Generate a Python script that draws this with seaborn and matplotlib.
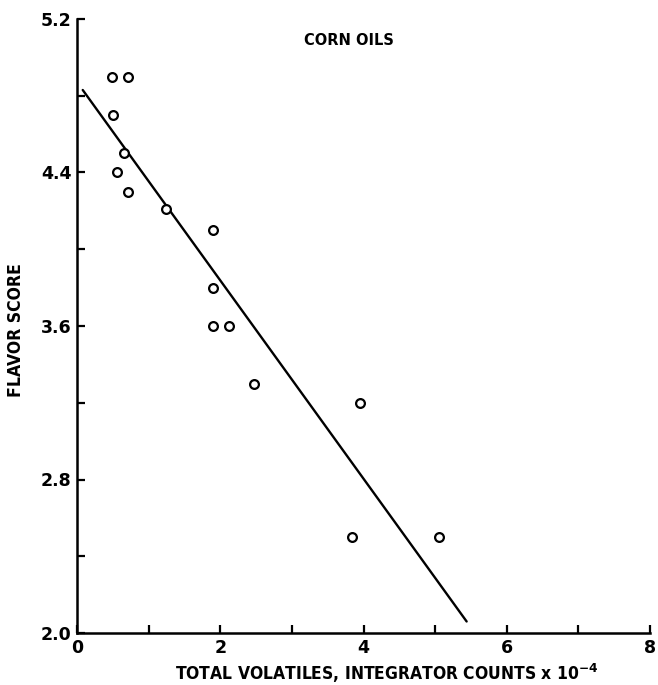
import matplotlib
matplotlib.use("Agg")
import matplotlib.pyplot as plt
import seaborn as sns
import pandas as pd
from matplotlib.ticker import MultipleLocator
from matplotlib import font_manager as fm

# Data
volatiles = [0.49, 0.71, 0.50, 0.66, 0.56, 0.71, 1.24, 1.90, 1.90, 1.90, 2.12, 2.47, 3.95, 3.84, 5.05]
flavor = [4.90, 4.90, 4.70, 4.50, 4.40, 4.30, 4.21, 4.10, 3.80, 3.60, 3.60, 3.30, 3.20, 2.50, 2.50]
fit_x = [0.08, 5.44]
fit_y = [4.83, 2.06]
x_ticks = [0, 2, 4, 6, 8]
y_ticks = [2.0, 2.8, 3.6, 4.4, 5.2]

sns.set_style("ticks")
plt.rcParams['font.family'] = ['DejaVu Sans']
plt.rcParams['text.color'] = 'black'
plt.rcParams['axes.labelcolor'] = 'black'
plt.rcParams['xtick.color'] = 'black'
plt.rcParams['ytick.color'] = 'black'

# pick a condensed face if one is installed
fonts = fm.fontManager.ttflist
names = {f.name for f in fonts}
cond_family, cond_stretch, scale = "DejaVu Sans", "normal", 0.82
if "Liberation Sans Narrow" in names:
    cond_family, cond_stretch, scale = "Liberation Sans Narrow", "normal", 1.0
elif any(f.name == "DejaVu Sans" and f.stretch == "condensed" for f in fonts):
    cond_family, cond_stretch, scale = "DejaVu Sans", "condensed", 0.9

fig = plt.figure(figsize=(6.58, 6.85), dpi=100)
ax = fig.add_axes([77/658, 1 - 633/685, (650-77)/658, (633-19)/685])

df = pd.DataFrame({"x": volatiles, "y": flavor})
fit = pd.DataFrame({"x": fit_x, "y": fit_y})

sns.lineplot(data=fit, x="x", y="y", ax=ax, color="black", linewidth=1.7, zorder=2)
sns.scatterplot(data=df, x="x", y="y", ax=ax, marker="o", s=40, facecolor="white",
                edgecolor="black", linewidth=1.6, zorder=3)

ax.set_xlim(0, 8)
ax.set_ylim(2.0, 5.2)
ax.set_xticks(x_ticks)
ax.set_xticklabels([str(t) for t in x_ticks])
ax.set_yticks(y_ticks)
ax.set_yticklabels([f"{t:.1f}" for t in y_ticks])
ax.xaxis.set_minor_locator(MultipleLocator(1))
ax.yaxis.set_minor_locator(MultipleLocator(0.4))
ax.tick_params(axis="both", which="both", direction="in", length=6, width=1.6, color="black")
ax.tick_params(axis="both", which="major", labelsize=12.5, pad=4, labelcolor="black")
for lab in ax.get_xticklabels() + ax.get_yticklabels():
    lab.set_fontweight("bold")

sns.despine(ax=ax)
for s in ["left", "bottom"]:
    ax.spines[s].set_linewidth(1.8)
    ax.spines[s].set_color("black")

def cfont(size):
    return fm.FontProperties(family=cond_family, stretch=cond_stretch, weight="bold", size=size * scale)

ax.set_xlabel(r"TOTAL VOLATILES, INTEGRATOR COUNTS x 10$^{\mathbf{-4}}$",
              fontproperties=cfont(13.9), color="black")
ax.xaxis.set_label_coords(0.541, -0.047)
ax.set_ylabel("FLAVOR SCORE", fontproperties=cfont(14), color="black")
ax.yaxis.set_label_coords(-0.091, 0.4935)
ax.text(3.79, 5.09, "CORN OILS", fontproperties=cfont(13), color="black",
        ha="center", va="center")

fig.savefig("out.png", dpi=100)
